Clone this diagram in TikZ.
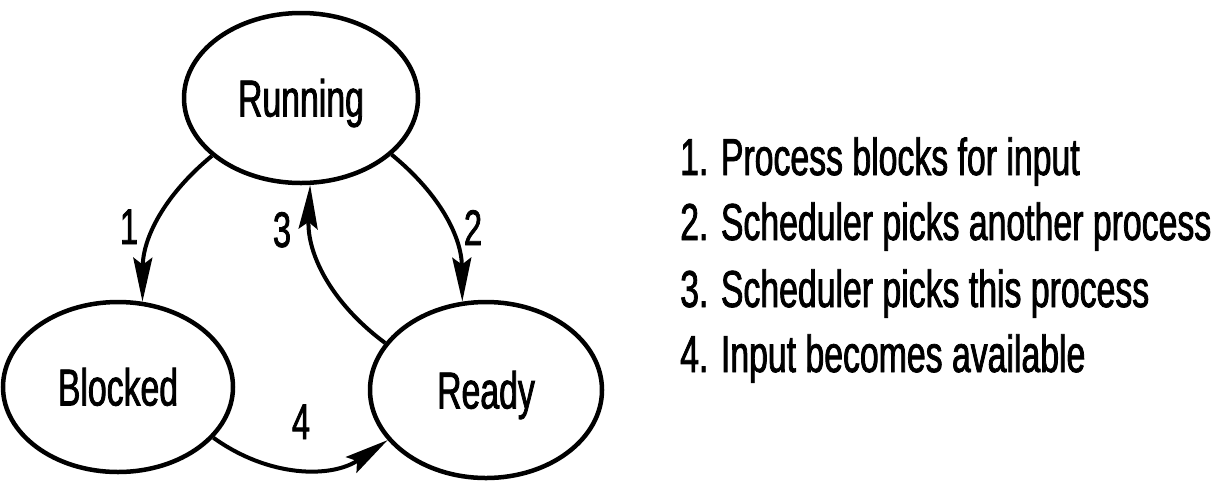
\documentclass[tikz,border=0pt]{standalone}
\usepackage{fontspec}
\setmainfont{Liberation Sans}[FakeStretch=0.65,FakeBold=1.5]
\usetikzlibrary{shapes.geometric,arrows.meta}
\begin{document}
\begin{tikzpicture}[x=1pt,y=-1pt,
  state/.style={draw, ellipse, line width=4.5pt, inner sep=0pt,
    font=\fontsize{52}{62}\selectfont, text height=37pt, text depth=0pt},
  num/.style={inner sep=0pt, font=\fontsize{50}{60}\selectfont,
    text height=36pt, text depth=0pt},
  item/.style={inner sep=0pt, anchor=base west, font=\fontsize{52}{62}\selectfont},
  flow/.style={line width=4pt, -{Stealth[length=44pt,width=19pt,inset=7pt]}}
]
\useasboundingbox (0,0) rectangle (1220,483);
\node[state, minimum width=234pt, minimum height=170pt] (run) at (301,98) {Running};
\node[state, minimum width=230pt, minimum height=170pt] (blk) at (118,387) {Blocked};
\node[state, minimum width=232pt, minimum height=176pt] (rdy) at (486,390) {Ready};

\draw[flow] (run.213) to[bend right=25] (blk.74);
\draw[flow] (run.328) to[bend left=25] (rdy.105);
\draw[flow] (rdy.155) to[bend left=28] (run.276);
\draw[flow] (blk.332) to[bend right=35] (rdy.207);

\node[num] (n1) at (129,226) {1};
\node[num] (n2) at (473,227) {2};
\node[num] (n3) at (282,229) {3};
\node[num] (n4) at (301,421) {4};

\node[item] (t1) at (680,175) {1. Process blocks for input};
\node[item] (t2) at (680,240) {2. Scheduler picks another process};
\node[item] (t3) at (680,307) {3. Scheduler picks this process};
\node[item] (t4) at (680,372) {4. Input becomes available};
\end{tikzpicture}
\end{document}
